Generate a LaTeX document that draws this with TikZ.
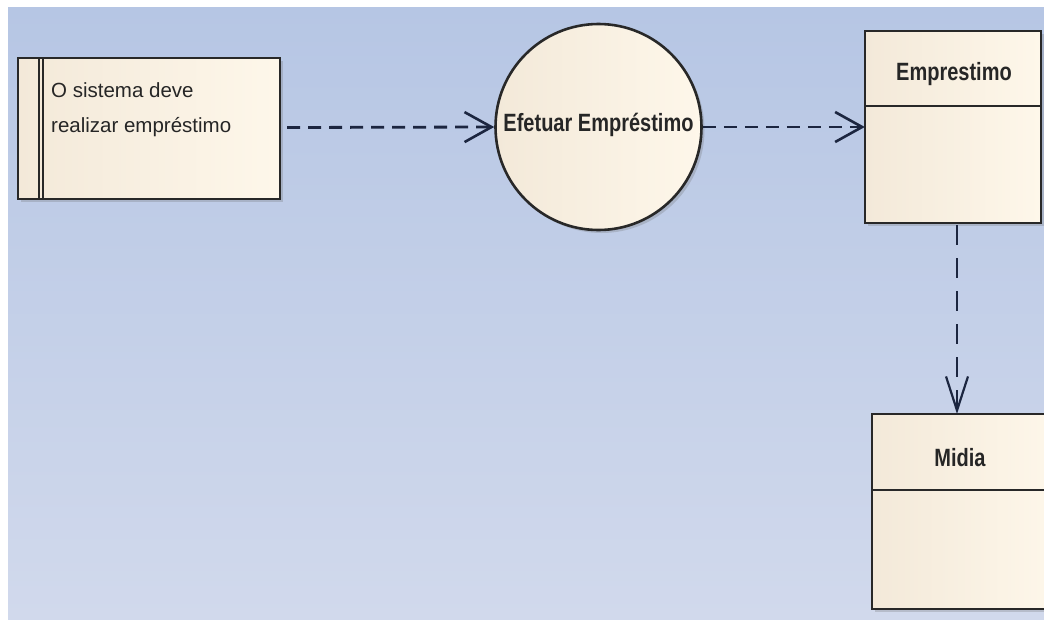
\documentclass[tikz,border=0pt]{standalone}
\usepackage{fontspec}
\setmainfont{Liberation Sans}
\usetikzlibrary{arrows.meta,shadows}
\definecolor{bgtop}{RGB}{182,198,228}
\definecolor{bgbot}{RGB}{209,217,236}
\definecolor{boxl}{RGB}{243,233,217}
\definecolor{boxr}{RGB}{254,247,234}
\definecolor{edge}{RGB}{40,40,40}
\definecolor{link}{RGB}{28,38,64}
\newcommand{\tallbold}[1]{\scalebox{1}[1.25]{#1}}
\begin{document}
\begin{tikzpicture}[x=1pt,y=-1pt,
  elem/.style={draw=edge,line width=2.6pt,left color=boxl,right color=boxr,
    drop shadow={shadow xshift=3pt,shadow yshift=-3pt,opacity=0.25,fill=black!60}},
  flow/.style={draw=link,line width=2.8pt,dash pattern=on 13pt off 8pt,
    -{Straight Barb[length=27pt,width=30pt,line width=2.6pt]}},
  uses/.style={draw=link,line width=2.2pt,dash pattern=on 20pt off 13pt,
    -{Straight Barb[length=34pt,width=22pt,line width=2.2pt]}},
  lbl/.style={font=\fontsize{20.5}{35}\selectfont,text=black!85},
  ttl/.style={font=\bfseries\fontsize{20}{22}\selectfont,text=black!85}]
\useasboundingbox (0,0) rectangle (1044,619);
\clip (0,0) rectangle (1044,619);
% canvas
\fill[white] (0,0) rectangle (1044,619);
\shade[top color=bgtop,bottom color=bgbot] (8,7) rectangle (1044,619);

% requirement
\path[elem] (18,58) rectangle (280,199);
\draw[edge,line width=2.4pt] (39,58) -- (39,199) (43,58) -- (43,199);
\node[inner sep=0pt,minimum width=262pt,minimum height=141pt] (req) at (149,128.5) {};
% the base anchor of a two-line node sits on its last line
\node[lbl,align=left,anchor=base west,inner sep=0pt] (reqtxt) at (51,132)
  {O sistema deve\\realizar empréstimo};

% use case
\node[elem,circle,minimum size=206pt,inner sep=0pt] (uc) at (598.5,127) {};
\node[ttl] (uctxt) at (598.5,125) {\tallbold{Efetuar Empréstimo}};

% class Emprestimo
\path[elem] (865,31) rectangle (1041,223);
\draw[edge,line width=2.6pt] (865,106) -- (1041,106);
\node[inner sep=0pt,minimum width=176pt,minimum height=192pt] (emp) at (953,127) {};
\node[ttl] (emptxt) at (954,74) {\tallbold{Emprestimo}};

% class Midia
\path[elem] (872,414) rectangle (1056,609);
\draw[edge,line width=2.6pt] (872,490) -- (1056,490);
\coordinate (midtop) at (957,414);
\node[ttl] (midtxt) at (960,458) {\tallbold{Midia}};

% connectors
\draw[flow] (req.east) ++(7,-1) coordinate (s1) -- (uc.west);
\draw[flow] (uc.east) -- (emp.west);
\coordinate (s3) at (957,225);
\draw[uses] (s3) -- (midtop);
\end{tikzpicture}
\end{document}
